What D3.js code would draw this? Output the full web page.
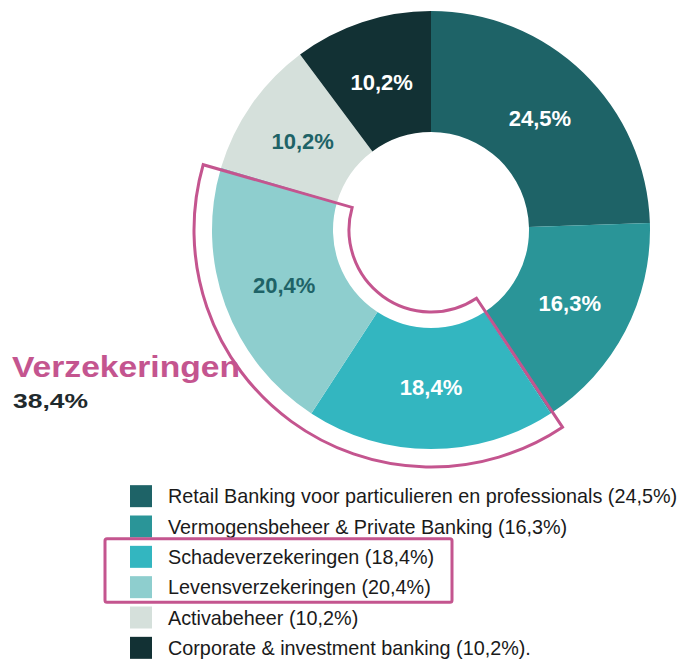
<!DOCTYPE html>
<html lang="nl">
<head>
<meta charset="utf-8">
<title>Verdeling per activiteit</title>
<script src="https://d3js.org/d3.v7.min.js"></script>
<style>
  body { margin: 0; background: #fff; }
  svg { display: block; font-family: "Liberation Sans", Arial, sans-serif; }
</style>
</head>
<body>
<script>
// data
var segments = ["Retail Banking voor particulieren en professionals", "Vermogensbeheer & Private Banking",
                "Schadeverzekeringen", "Levensverzekeringen", "Activabeheer", "Corporate & investment banking"];
var shares = [24.5, 16.3, 18.4, 20.4, 10.2, 10.2];
var colors = ["#1e6367", "#2a9598", "#33b6c0", "#8ecece", "#d5e0db", "#123134"];
var labelColors = ["#fff", "#fff", "#fff", "#1e6367", "#1e6367", "#fff"];
var highlighted = [2, 3];  // insurance segments
var highlightTitle = "Verzekeringen";
var highlightShare = 38.4;  // as printed on the chart

var w = 683, h = 661;
var cx = 431, cy = 230;
var rOuter = 219, rInner = 98;
var pink = "#c4558f";

var fmt = function(v) { return d3.format(".1f")(v).replace(".", ","); };

var svg = d3.select("body").append("svg")
  .attr("width", w)
  .attr("height", h);

var pie = d3.pie().sort(null).value(function(d) { return d; });
var arcs = pie(shares);

var arc = d3.arc().innerRadius(rInner).outerRadius(rOuter);
var labelArc = d3.arc().innerRadius(rInner - 2).outerRadius(rOuter - 2);

var g = svg.append("g").attr("transform", "translate(" + cx + "," + cy + ")");

g.selectAll("path.slice")
  .data(arcs)
  .enter()
  .append("path")
  .attr("class", "slice")
  .attr("d", arc)
  .attr("fill", function(d, i) { return colors[i]; });

g.selectAll("text.pct")
  .data(arcs)
  .enter()
  .append("text")
  .attr("class", "pct")
  .attr("x", function(d) { return labelArc.centroid(d)[0]; })
  .attr("y", function(d) { return labelArc.centroid(d)[1]; })
  .attr("dy", "0.4em")
  .attr("text-anchor", "middle")
  .attr("font-size", 22)
  .attr("font-weight", "bold")
  .attr("fill", function(d, i) { return labelColors[i]; })
  .text(function(d) { return fmt(d.data) + "%"; });

// outline round the insurance slices
var hlStart = arcs[highlighted[0]].startAngle;
var hlEnd = arcs[highlighted[highlighted.length - 1]].endAngle;
g.append("path")
  .attr("d", d3.arc().innerRadius(82).outerRadius(237)({ startAngle: hlStart - 0.01, endAngle: hlEnd - 0.01 }))
  .attr("fill", "none")
  .attr("stroke", pink)
  .attr("stroke-width", 3)
  .attr("stroke-linejoin", "miter");

svg.append("text")
  .attr("x", 12)
  .attr("y", 377)
  .attr("font-size", 30)
  .attr("font-weight", "bold")
  .attr("fill", pink)
  .attr("textLength", 228)
  .attr("lengthAdjust", "spacingAndGlyphs")
  .text(highlightTitle);

svg.append("text")
  .attr("x", 13)
  .attr("y", 408)
  .attr("font-size", 21)
  .attr("font-weight", "bold")
  .attr("fill", "#1f2a2d")
  .attr("textLength", 75)
  .attr("lengthAdjust", "spacingAndGlyphs")
  .text(fmt(highlightShare) + "%");

// legend
var legY = d3.scaleBand().domain(d3.range(segments.length)).range([481, 663]);

var leg = svg.selectAll("g.leg")
  .data(segments)
  .enter()
  .append("g")
  .attr("class", "leg")
  .attr("transform", function(d, i) { return "translate(130," + (legY(i) + legY.bandwidth() / 2) + ")"; });

leg.append("rect")
  .attr("x", 0)
  .attr("y", -11)
  .attr("width", 22)
  .attr("height", 22)
  .attr("fill", function(d, i) { return colors[i]; });

leg.append("text")
  .attr("x", 38)
  .attr("dy", "0.36em")
  .attr("font-size", 19.8)
  .attr("fill", "#1a1a1a")
  .text(function(d, i) { return d + " (" + fmt(shares[i]) + "%)" + (i === segments.length - 1 ? "." : ""); });

var y0 = legY(highlighted[0]), y1 = legY(highlighted[highlighted.length - 1]) + legY.bandwidth();
svg.append("rect")
  .attr("x", 105)
  .attr("y", y0 - 3)
  .attr("width", 347)
  .attr("height", y1 - y0 + 3)
  .attr("rx", 2)
  .attr("fill", "none")
  .attr("stroke", pink)
  .attr("stroke-width", 3);
</script>
</body>
</html>
